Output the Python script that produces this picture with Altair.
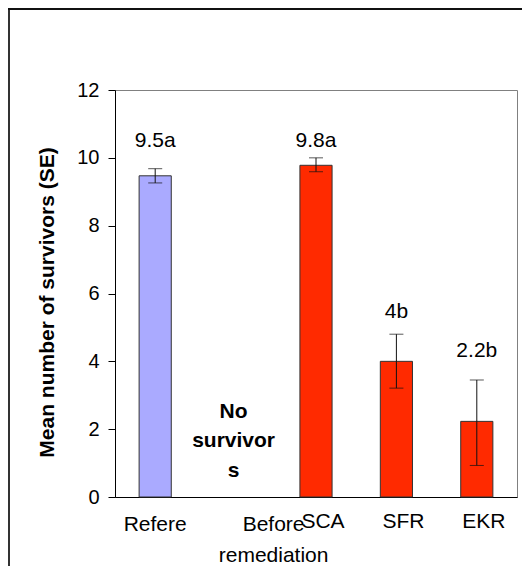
import altair as alt
import pandas as pd

# ---- data ----
categories = ["Refere", "Before remediation", "SCA", "SFR", "EKR"]
groups = ["reference", "none", "remediated", "remediated", "remediated"]
means = [9.47, None, 9.78, 4.0, 2.23]
se_low = [9.26, None, 9.59, 3.21, 0.93]
se_high = [9.68, None, 10.0, 4.8, 3.45]
value_labels = ["9.5a", "", "9.8a", "4b", "2.2b"]
value_label_y = [10.32, None, 10.32, 5.28, 4.13]
x_labels = ["Refere", "Before\nremediation", "SCA", "SFR", "EKR"]
y_ticks = [0, 2, 4, 6, 8, 10, 12]
note_text = ["No\nsurvivor\ns"]
note_category = ["Before remediation"]
note_y = [2.33]

FONT = "Liberation Sans"
W, H = 402, 407

df = pd.DataFrame({
    "cat": categories, "group": groups, "mean": means,
    "lo": se_low, "hi": se_high, "lab": value_labels, "laby": value_label_y,
    "xlab": x_labels,
})
bars_df = df.dropna(subset=["mean"])
note_df = pd.DataFrame({"cat": note_category, "txt": note_text, "y": note_y})
frame_df = pd.DataFrame({"k": [0]})

xs = alt.Scale(domain=categories, paddingInner=0.6, paddingOuter=0.3)
ys = alt.Scale(domain=[0, 12], nice=False)

X = alt.X("cat:N", scale=xs, sort=categories,
          axis=alt.Axis(labels=False, ticks=False, title=None, domainColor="black",
                        domainWidth=1))
Y = alt.Y("mean:Q", scale=ys,
          axis=alt.Axis(values=y_ticks, title="Mean number of survivors (SE)",
                        titleFont=FONT, titleFontSize=21, titleFontWeight="bold",
                        titleColor="black", titleAngle=270, titleX=-68, titleY=212,
                        titleAlign="center", titleBaseline="middle",
                        labelFont=FONT, labelFontSize=20, labelColor="black",
                        labelPadding=9, tickSize=7, tickColor="black",
                        domainColor="black", grid=False))

bars = alt.Chart(bars_df).mark_bar(stroke="#333333", strokeWidth=1).encode(
    x=X, y=Y,
    color=alt.Color("group:N", legend=None,
                    scale=alt.Scale(domain=["reference", "remediated"],
                                    range=["#AAAAFF", "#FF2A00"])),
)

err = alt.Chart(bars_df).mark_rule(color="#111111", strokeWidth=1).encode(
    x=alt.X("cat:N", scale=xs, sort=categories),
    y=alt.Y("lo:Q", scale=ys), y2="hi:Q",
)
cap_hi = alt.Chart(bars_df).mark_tick(color="#111111", thickness=1, size=14).encode(
    x=alt.X("cat:N", scale=xs, sort=categories), y=alt.Y("hi:Q", scale=ys))
cap_lo = alt.Chart(bars_df).mark_tick(color="#111111", thickness=1, size=14).encode(
    x=alt.X("cat:N", scale=xs, sort=categories), y=alt.Y("lo:Q", scale=ys))

vlabels = alt.Chart(bars_df).mark_text(font=FONT, fontSize=21, color="black",
                                       baseline="alphabetic").encode(
    x=alt.X("cat:N", scale=xs, sort=categories),
    y=alt.Y("laby:Q", scale=ys), text="lab:N")

note = alt.Chart(note_df).mark_text(font=FONT, fontSize=21, fontWeight="bold",
                                    color="black", baseline="alphabetic",
                                    lineBreak="\n", lineHeight=29.5, dx=-2).encode(
    x=alt.X("cat:N", scale=xs, sort=categories),
    y=alt.Y("y:Q", scale=ys), text="txt:N")

def xlab_layer(cats, dx, ypix):
    return alt.Chart(df).transform_filter(
        alt.FieldOneOfPredicate(field="cat", oneOf=cats)
    ).mark_text(font=FONT, fontSize=21, color="black", baseline="alphabetic",
                lineBreak="\n", lineHeight=30.5, dx=dx).encode(
        x=alt.X("cat:N", scale=xs, sort=categories),
        y=alt.value(ypix), text="xlab:N")

xl1 = xlab_layer(["Refere"], 0, H + 34)
xl2 = xlab_layer(["Before remediation"], 38, H + 34)
xl3 = xlab_layer(["SCA", "SFR", "EKR"], 7, H + 31)

frame_left = alt.Chart(frame_df).mark_rule(color="#333333", strokeWidth=2).encode(
    x=alt.value(-106), y=alt.value(-82), y2=alt.value(H + 69))
frame_top = alt.Chart(frame_df).mark_rule(color="#111111", strokeWidth=2).encode(
    x=alt.value(-107), x2=alt.value(W + 5), y=alt.value(-81))

chart = alt.layer(
    bars, err, cap_hi, cap_lo, vlabels, note, xl1, xl2, xl3, frame_left, frame_top
).properties(
    width=W, height=H,
    autosize=alt.AutoSizeParams(type="none"),
    padding={"left": 107, "top": 82, "right": 5, "bottom": 69},
    background="white",
).configure_view(stroke="#808080", strokeWidth=1)

chart.save("out.html", embed_options={"renderer": "svg", "actions": False})
